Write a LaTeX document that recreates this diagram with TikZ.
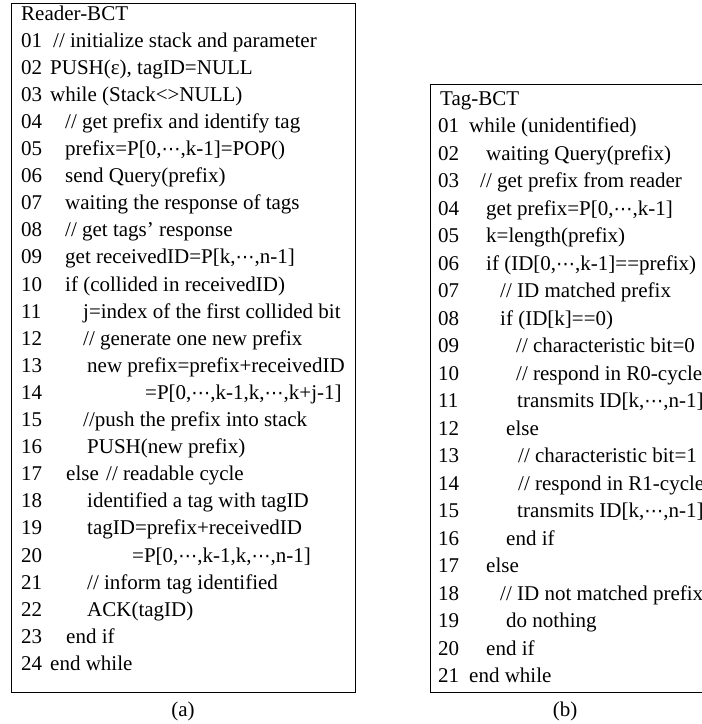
\documentclass[tikz,border=0pt]{standalone}
\usepackage{fontspec}
\setmainfont{Liberation Serif}
\newfontfamily\dotfont{DejaVu Sans}
\newcommand{\mdots}{{\dotfont\fontsize{19}{20}\selectfont ⋯}}
\usepackage{tikz}

\begin{document}
\begin{tikzpicture}[
    x=1pt, y=-1pt,
    code/.style={anchor=base west, inner sep=0pt, font=\fontsize{21}{24}\selectfont},
    frame/.style={line width=1pt, draw=black}
]
\useasboundingbox (0,0) rectangle (702,724);
\clip (0,0) rectangle (702,724);

% (a) reader side
\draw[frame] (11,3) rectangle (355,692);
\node[code] (rhead) at (21,20) {Reader-BCT};
\node[code] (rn01) at (21,47.1) {01};
\node[code] (r01) at (53,47.1) {// initialize stack and parameter};
\node[code] (rn02) at (21,74.2) {02};
\node[code] (r02) at (50,74.2) {PUSH(ε), tagID=NULL};
\node[code] (rn03) at (21,101.3) {03};
\node[code] (r03) at (50,101.3) {while (Stack<>NULL)};
\node[code] (rn04) at (21,128.4) {04};
\node[code] (r04) at (65,128.4) {// get prefix and identify tag};
\node[code] (rn05) at (21,155.5) {05};
\node[code] (r05) at (65,155.5) {prefix=P[0,\mdots,k-1]=POP()};
\node[code] (rn06) at (21,182.6) {06};
\node[code] (r06) at (65,182.6) {send Query(prefix)};
\node[code] (rn07) at (21,209.7) {07};
\node[code] (r07) at (65,209.7) {waiting the response of tags};
\node[code] (rn08) at (21,236.8) {08};
\node[code] (r08) at (65,236.8) {// get tags' response};
\node[code] (rn09) at (21,263.9) {09};
\node[code] (r09) at (65,263.9) {get receivedID=P[k,\mdots,n-1]};
\node[code] (rn10) at (21,291) {10};
\node[code] (r10) at (65,291) {if (collided in receivedID)};
\node[code] (rn11) at (21,318.1) {11};
\node[code] (r11) at (83,318.1) {j=index of the first collided bit};
\node[code] (rn12) at (21,345.2) {12};
\node[code] (r12) at (83,345.2) {// generate one new prefix};
\node[code] (rn13) at (21,372.3) {13};
\node[code] (r13) at (87,372.3) {new prefix=prefix+receivedID};
\node[code] (rn14) at (21,399.4) {14};
\node[code] (r14) at (145,399.4) {=P[0,\mdots,k-1,k,\mdots,k+j-1]};
\node[code] (rn15) at (21,426.5) {15};
\node[code] (r15) at (83,426.5) {//push the prefix into stack};
\node[code] (rn16) at (21,453.6) {16};
\node[code] (r16) at (87,453.6) {PUSH(new prefix)};
\node[code] (rn17) at (21,480.7) {17};
\node[code] (r17) at (66,480.7) {else};
\node[code] (r17c) at (106,480.7) {// readable cycle};
\node[code] (rn18) at (21,507.8) {18};
\node[code] (r18) at (87,507.8) {identified a tag with tagID};
\node[code] (rn19) at (21,534.9) {19};
\node[code] (r19) at (87,534.9) {tagID=prefix+receivedID};
\node[code] (rn20) at (21,562) {20};
\node[code] (r20) at (132,562) {=P[0,\mdots,k-1,k,\mdots,n-1]};
\node[code] (rn21) at (21,589.1) {21};
\node[code] (r21) at (87,589.1) {// inform tag identified};
\node[code] (rn22) at (21,616.2) {22};
\node[code] (r22) at (87,616.2) {ACK(tagID)};
\node[code] (rn23) at (21,643.3) {23};
\node[code] (r23) at (66,643.3) {end if};
\node[code] (rn24) at (21,670.4) {24};
\node[code] (r24) at (50,670.4) {end while};
\node[code, anchor=base] (capa) at (183,716) {(a)};

% (b) tag side
\draw[frame] (430,84) rectangle (720,692);
\node[code] (thead) at (440,105) {Tag-BCT};
\node[code] (tn01) at (438,132.5) {01};
\node[code] (t01) at (469,132.5) {while (unidentified)};
\node[code] (tn02) at (438,160) {02};
\node[code] (t02) at (486,160) {waiting Query(prefix)};
\node[code] (tn03) at (438,187.5) {03};
\node[code] (t03) at (480,187.5) {// get prefix from reader};
\node[code] (tn04) at (438,215) {04};
\node[code] (t04) at (486,215) {get prefix=P[0,\mdots,k-1]};
\node[code] (tn05) at (438,242.5) {05};
\node[code] (t05) at (486,242.5) {k=length(prefix)};
\node[code] (tn06) at (438,270) {06};
\node[code] (t06) at (486,270) {if (ID[0,\mdots,k-1]==prefix)};
\node[code] (tn07) at (438,297.5) {07};
\node[code] (t07) at (500,297.5) {// ID matched prefix};
\node[code] (tn08) at (438,325) {08};
\node[code] (t08) at (500,325) {if (ID[k]==0)};
\node[code] (tn09) at (438,352.5) {09};
\node[code] (t09) at (516,352.5) {// characteristic bit=0};
\node[code] (tn10) at (438,380) {10};
\node[code] (t10) at (516,380) {// respond in R0-cycle};
\node[code] (tn11) at (438,407.5) {11};
\node[code] (t11) at (517,407.5) {transmits ID[k,\mdots,n-1]};
\node[code] (tn12) at (438,435) {12};
\node[code] (t12) at (506,435) {else};
\node[code] (tn13) at (438,462.5) {13};
\node[code] (t13) at (518,462.5) {// characteristic bit=1};
\node[code] (tn14) at (438,490) {14};
\node[code] (t14) at (518,490) {// respond in R1-cycle};
\node[code] (tn15) at (438,517.5) {15};
\node[code] (t15) at (517,517.5) {transmits ID[k,\mdots,n-1]};
\node[code] (tn16) at (438,545) {16};
\node[code] (t16) at (506,545) {end if};
\node[code] (tn17) at (438,572.5) {17};
\node[code] (t17) at (486,572.5) {else};
\node[code] (tn18) at (438,600) {18};
\node[code] (t18) at (500,600) {// ID not matched prefix};
\node[code] (tn19) at (438,627.5) {19};
\node[code] (t19) at (506,627.5) {do nothing};
\node[code] (tn20) at (438,655) {20};
\node[code] (t20) at (486,655) {end if};
\node[code] (tn21) at (438,682.5) {21};
\node[code] (t21) at (469,682.5) {end while};
\node[code, anchor=base] (capb) at (565,716) {(b)};

\end{tikzpicture}
\end{document}
